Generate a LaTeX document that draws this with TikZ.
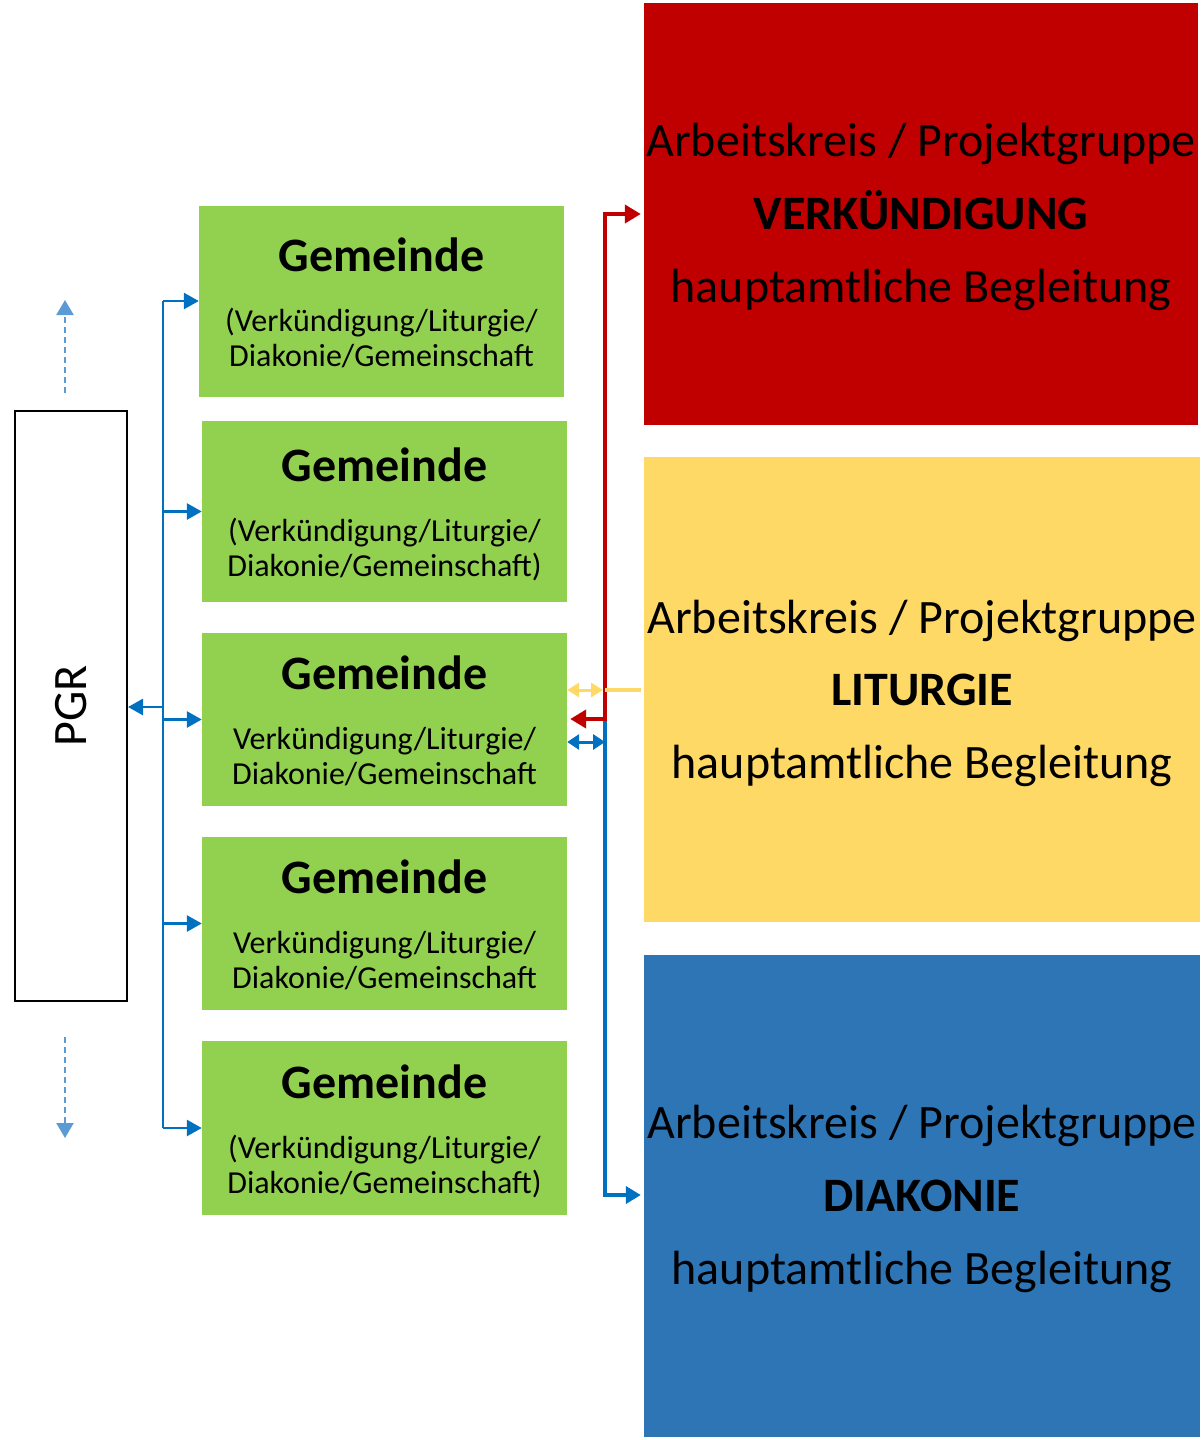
\documentclass[tikz,border=0pt]{standalone}
\usepackage{fontspec}
\setmainfont{Carlito}
\usetikzlibrary{arrows.meta}
\definecolor{cgreen}{HTML}{92D050}
\definecolor{cred}{HTML}{C00000}
\definecolor{cyellow}{HTML}{FFD966}
\definecolor{cblue}{HTML}{2E75B6}
\definecolor{lblue}{HTML}{0070C0}
\definecolor{dblue}{HTML}{5B9BD5}
\newcommand\bigtxt{\fontsize{48}{56}\selectfont}
\newcommand\gtitle{\fontsize{48}{56}\selectfont\bfseries}
\newcommand\gsub{\fontsize{32}{38}\selectfont}
\begin{document}
\begin{tikzpicture}[x=1pt,y=-1pt,
  gbox/.style={fill=cgreen,draw=none,inner sep=0pt},
  bigbox/.style={draw=none,inner sep=0pt},
  txt/.style={inner sep=0pt,anchor=base,align=center},
  busline/.style={draw=lblue,line width=2.8pt},
  busarrow/.style={busline,-{Triangle[length=15pt,width=16pt]}},
  redline/.style={draw=cred,line width=4pt},
  dashup/.style={draw=dblue,line width=2.2pt,dash pattern=on 6pt off 4pt,-{Triangle[length=15pt,width=17pt]}},
]
\useasboundingbox (0,0) rectangle (1203,1440);

% big boxes
\node[bigbox,fill=cred,minimum width=554pt,minimum height=422pt] (rbox) at (921,214) {};
\node[bigbox,fill=cyellow,minimum width=556pt,minimum height=465pt] (ybox) at (922,689.5) {};
\node[bigbox,fill=cblue,minimum width=556pt,minimum height=482pt] (bbox) at (922,1196) {};

\node[txt] (r1) at (921,156) {\bigtxt Arbeitskreis / Projektgruppe};
\node[txt] (r2) at (921,229) {\bigtxt\bfseries VERKÜNDIGUNG};
\node[txt] (r3) at (921,302) {\bigtxt hauptamtliche Begleitung};
\node[txt] (y1) at (922,633) {\bigtxt Arbeitskreis / Projektgruppe};
\node[txt] (y2) at (922,705) {\bigtxt\bfseries LITURGIE};
\node[txt] (y3) at (922,778) {\bigtxt hauptamtliche Begleitung};
\node[txt] (b1) at (922,1138) {\bigtxt Arbeitskreis / Projektgruppe};
\node[txt] (b2) at (922,1211) {\bigtxt\bfseries DIAKONIE};
\node[txt] (b3) at (922,1284) {\bigtxt hauptamtliche Begleitung};

% green boxes
\node[gbox,minimum width=365pt,minimum height=191pt] (g1) at (381.5,301.5) {};
\node[gbox,minimum width=365pt,minimum height=181pt] (g2) at (384.5,511.5) {};
\node[gbox,minimum width=365pt,minimum height=173pt] (g3) at (384.5,719.5) {};
\node[gbox,minimum width=365pt,minimum height=173pt] (g4) at (384.5,923.5) {};
\node[gbox,minimum width=365pt,minimum height=174pt] (g5) at (384.5,1128) {};

\node[txt] (g1t) at (381.5,271) {\gtitle Gemeinde};
\node[txt] (g1a) at (381.5,331) {\gsub (Verkündigung/Liturgie/};
\node[txt] (g1b) at (381.5,366) {\gsub Diakonie/Gemeinschaft};
\node[txt] (g2t) at (384.5,481) {\gtitle Gemeinde};
\node[txt] (g2a) at (384.5,541) {\gsub (Verkündigung/Liturgie/};
\node[txt] (g2b) at (384.5,576) {\gsub Diakonie/Gemeinschaft)};
\node[txt] (g3t) at (384.5,689) {\gtitle Gemeinde};
\node[txt] (g3a) at (384.5,749) {\gsub Verkündigung/Liturgie/};
\node[txt] (g3b) at (384.5,784) {\gsub Diakonie/Gemeinschaft};
\node[txt] (g4t) at (384.5,893) {\gtitle Gemeinde};
\node[txt] (g4a) at (384.5,953) {\gsub Verkündigung/Liturgie/};
\node[txt] (g4b) at (384.5,988) {\gsub Diakonie/Gemeinschaft};
\node[txt] (g5t) at (384.5,1098) {\gtitle Gemeinde};
\node[txt] (g5a) at (384.5,1158) {\gsub (Verkündigung/Liturgie/};
\node[txt] (g5b) at (384.5,1193) {\gsub Diakonie/Gemeinschaft)};

% PGR
\node[draw=black,line width=2pt,inner sep=0pt,minimum width=112pt,minimum height=590pt] (pgr) at (71,706) {};
\node[rotate=90,inner sep=0pt] (pgrt) at (71,706) {\bigtxt PGR};

% bus
\coordinate (bt) at (163,301);
\coordinate (bb) at (163,1128);
\coordinate (bp) at (163,707);
\draw[busline] (bt) -- (bb);
\draw[busarrow] (bt) -- (g1.west |- bt);
\draw[busarrow] (bt |- g2.west) -- (g2.west);
\draw[busarrow] (bt |- g3.west) -- (g3.west);
\draw[busarrow] (bt |- g4.west) -- (g4.west);
\draw[busarrow] (bb) -- (g5.west |- bb);
\draw[busarrow] (bp) -- (pgr.east |- bp);

% dashed arrows
\coordinate (du0) at (65,393);
\coordinate (du1) at (65,300);
\coordinate (dd0) at (65,1037);
\coordinate (dd1) at (65,1138);
\draw[dashup] (du0) -- (du1);
\draw[dashup] (dd0) -- (dd1);

% right connectors
\coordinate (j) at (605,719);
\coordinate (jr) at (605,214);
\coordinate (jb) at (605,1195);
\coordinate (jy) at (605,690);
\coordinate (jd) at (605,742);
\draw[draw=lblue,line width=4pt,-{Triangle[length=15pt,width=17pt]}] (j) -- (jb) -- ([xshift=-3pt]bbox.west |- jb);
\draw[redline,-{Triangle[length=16pt,width=18pt]}] (j) -- (jr) -- ([xshift=-3pt]rbox.west |- jr);
\draw[redline,-{Triangle[length=16pt,width=18pt]}] ([xshift=2pt]j) -- ([xshift=3pt]g3.east |- j);
\draw[draw=cyellow,line width=4pt] (jy) -- ([xshift=-3pt]ybox.west |- jy);
\draw[draw=cyellow,line width=3pt,{Triangle[length=12pt,width=14pt]}-{Triangle[length=12pt,width=14pt]}] ([xshift=-2pt]jy) -- (g3.east |- jy);
\draw[draw=lblue,line width=3pt,{Triangle[length=12pt,width=15pt]}-{Triangle[length=12pt,width=15pt]}] (jd) -- (g3.east |- jd);
\end{tikzpicture}
\end{document}
